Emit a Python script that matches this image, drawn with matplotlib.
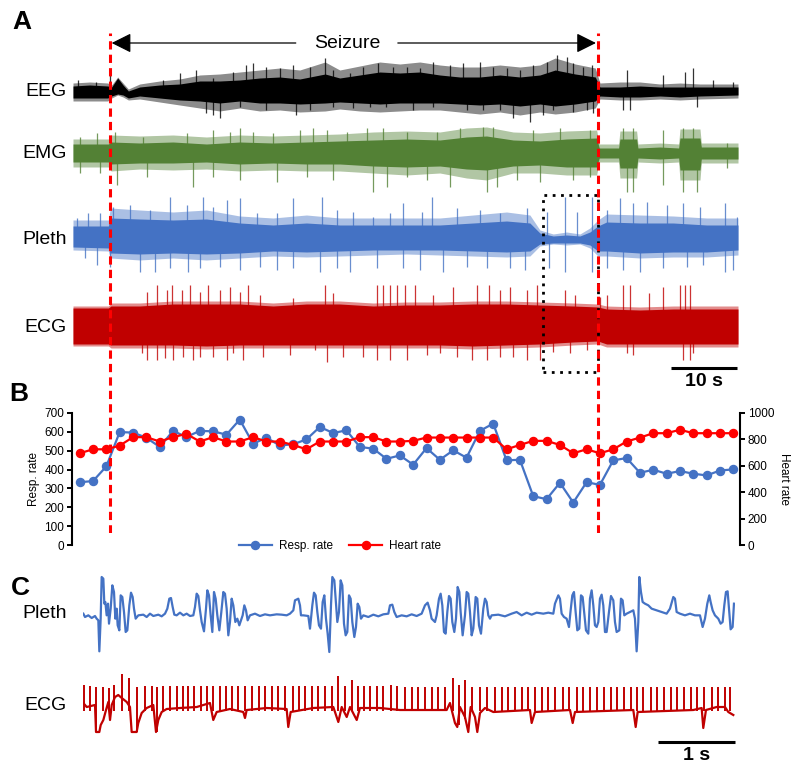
import numpy as np
import matplotlib
matplotlib.use('agg')
import matplotlib.pyplot as plt
from matplotlib.patches import Rectangle
from matplotlib.lines import Line2D

plt.rcParams['font.family'] = ['Liberation Sans', 'DejaVu Sans']

BLUE = '#4472C4'
GREEN = '#538135'
DARKRED = '#C00000'
RED = '#FF0000'

# seizure onset / offset and zoom window (s)
SEIZ_ON, SEIZ_OFF = 5.5, 78.7
ZOOM_WIN = (70.4, 78.7)

# ---- panel A: raw traces as envelopes (time s, amplitude a.u.)
# dense core, outer fringe, and single excursions above / below the baseline
eeg_t = [0, 2.5, 5.2, 5.8, 6.7, 7.5, 8.3, 10, 13, 16, 19, 22, 25, 28, 31, 34, 37.8, 40, 43, 46, 49,
         52, 55, 58, 61, 64, 67, 70, 72.3, 75.3, 78.3, 79, 82, 85, 88, 91, 94, 99.7]
eeg_top = [6, 7, 6, 5, 14, 7, 1, 5, 7, 8, 11, 11, 12, 14, 15, 13, 18, 14, 17, 20, 19,
           20, 17, 15, 15, 17, 15, 17, 22, 18, 15, 5, 5, 6, 5, 5, 5, 5]
eeg_bot = [-6, -6, -6, -4, -2, -3, -6, -4, -6, -8, -9, -11, -9, -11, -11, -12, -11, -10, -11, -12, -11,
           -11, -11, -12, -13, -12, -14, -12, -14, -12, -9, -4, -5, -5, -4, -5, -4, -3]
eeg_out_top = [9, 10, 9, 7, 15, 9, 3, 8, 11, 13, 17, 18, 20, 22, 24, 22, 30, 22, 26, 30, 28,
               30, 27, 25, 25, 27, 25, 27, 34, 28, 24, 9, 10, 10, 8, 9, 8, 8]
eeg_out_bot = [-9, -9, -9, -6, -3, -5, -8, -7, -10, -13, -16, -19, -16, -19, -18, -20, -19, -17, -19, -20, -19,
               -18, -18, -20, -22, -20, -23, -20, -22, -20, -16, -7, -8, -8, -7, -8, -7, -6]
eeg_up_t = [0.8, 3.5, 5.5, 13.5, 16, 18.5, 21, 24, 26, 27, 29, 31, 33, 35.5, 37.8, 39, 41.5, 43.5, 45.8, 48,
            50, 52, 54, 56.5, 58.5, 61, 63, 65, 67, 69, 71, 72.5, 74, 75, 76.5, 77.8, 83, 88.5, 91.8, 93,
            96, 99]
eeg_up = [12, 10, 17, 12, 19, 22, 14, 20, 27, 29, 25, 24, 27, 25, 34, 22, 19, 25, 29, 25,
          25, 24, 30, 27, 29, 30, 25, 24, 22, 27, 30, 37, 35, 29, 25, 27, 22, 17, 20, 24,
          12, 10]
eeg_dn_t = [20, 21, 22, 25, 29, 33.5, 35.5, 39, 42, 44.5, 47, 51, 54, 59, 61.5, 64, 66, 68.5, 70.5, 72,
            75, 77, 78, 82.5, 83.5, 93.5]
eeg_dn = [-21, -23, -26, -15, -18, -23, -18, -15, -16, -15, -15, -18, -15, -18, -18, -18, -26, -30, -23, -18,
          -20, -18, -21, -18, -18, -15]

emg_t = [0, 5.3, 5.7, 10, 15, 20, 25, 30, 35, 40, 45, 50, 55, 59, 62, 66, 70, 74, 78.5, 78.9,
         81.8, 82.0, 84.5, 84.7, 88, 90.8, 91.0, 94, 94.2, 99.7]
emg_top = [9, 9, 11, 10, 11, 9, 11, 10, 11, 12, 13, 14, 13, 16, 17, 13, 12, 14, 15, 5,
           5, 14, 14, 5, 6, 5, 15, 15, 6, 6]
emg_bot = [-9, -9, -11, -10, -10, -9, -11, -10, -11, -11, -13, -14, -13, -16, -17, -13, -12, -14, -14, -5,
           -5, -15, -15, -5, -6, -5, -17, -17, -6, -6]
emg_out_top = [14, 14, 18, 17, 18, 16, 18, 17, 18, 19, 21, 22, 21, 25, 26, 21, 20, 22, 23, 9,
               9, 22, 22, 9, 10, 9, 24, 24, 10, 10]
emg_out_bot = [-14, -14, -18, -16, -17, -16, -18, -17, -18, -18, -20, -22, -20, -25, -27, -20, -20, -22, -22, -9,
               -9, -25, -25, -9, -10, -9, -27, -27, -10, -10]
emg_up_t = [1.05, 3.55, 6.3, 10.5, 17.05, 21.05, 23.55, 25.05, 27.05, 30.05, 34.05, 36.05, 38.05, 41.05, 44.05,
            46.55, 50, 54.5, 58, 61.5, 63, 69, 73, 77.5, 82.5, 84, 88.5, 91.5, 93, 98]
emg_up = [16, 20, 21, 16, 20, 23, 21, 25, 21, 20, 23, 25, 23, 21, 25,
          25, 21, 21, 25, 26, 26, 23, 25, 23, 25, 25, 23, 25, 25, 10]
emg_dn_t = [1.05, 4.05, 6.55, 11.05, 18.05, 21.05, 25.05, 30.55, 35.05, 39.05, 45.05, 47.05, 50, 53, 56.5,
            62, 63.5, 66.5, 70, 75, 77.5, 83, 84, 88.5, 91.5, 93.5, 98]
emg_dn = [-20, -20, -32, -24, -34, -24, -27, -29, -24, -27, -39, -34, -24, -27, -34,
          -39, -34, -27, -29, -27, -24, -39, -39, -32, -39, -39, -15]

pleth_t = [0, 5.3, 5.6, 10, 15, 20, 25, 30, 35, 40, 45, 50, 55, 60, 65, 68.5, 70, 72, 74, 76,
           77.5, 78.7, 80, 85, 90, 95, 99.7]
pleth_top = [14, 14, 22, 21, 20, 21, 17, 15, 17, 15, 15, 15, 15, 17, 19, 17, 7, 4, 5, 4,
             8, 14, 18, 17, 17, 15, 15]
pleth_bot = [-7, -8, -13, -14, -13, -14, -13, -11, -12, -11, -10, -10, -10, -11, -12, -11, -4, -3, -3, -3,
             -5, -11, -11, -13, -12, -12, -10]
pleth_out_top = [20, 20, 32, 30, 28, 30, 24, 22, 25, 22, 22, 22, 22, 25, 28, 25, 10, 6, 8, 6,
                 12, 20, 26, 25, 24, 22, 22]
pleth_out_bot = [-10, -11, -18, -20, -18, -20, -18, -16, -17, -16, -15, -14, -15, -16, -17, -16, -6, -4, -5, -4,
                 -8, -16, -16, -18, -17, -17, -15]
pleth_up_t = [0.55, 2.3, 4.05, 6.05, 8.55, 11.55, 14.55, 17.05, 19.55, 21.05, 23.05, 25.05, 27.55, 30.55, 33.05,
              37.3, 39.55, 42.05, 45.05, 47.55, 49.5, 52.3, 53.8, 57.5, 61, 64, 68, 71, 73.8, 75.5,
              77.8, 80, 82, 84, 86, 89, 91.5, 94, 97.8, 99.5]
pleth_up = [22, 27, 27, 33, 35, 30, 43, 35, 43, 33, 40, 42, 27, 27, 42,
            43, 30, 28, 23, 27, 37, 28, 43, 32, 30, 27, 32, 28, 43, 28,
            43, 30, 42, 37, 38, 35, 37, 33, 37, 23]
pleth_dn_t = [1.8, 3.55, 5.55, 10.05, 12.3, 14.55, 17.3, 19.05, 22.05, 25.05, 28.05, 30.55, 33.05, 37.05, 39.55,
              41.55, 45.55, 49.5, 52, 55.5, 59, 62, 65.5, 67.8, 71.3, 73.8, 77.8, 80, 82.5, 85,
              88.5, 92, 94.5, 97.8, 99]
pleth_dn = [-18, -25, -27, -32, -32, -28, -32, -28, -27, -30, -27, -30, -28, -32, -28,
            -32, -28, -28, -30, -32, -27, -28, -28, -30, -28, -32, -32, -28, -30, -32,
            -28, -27, -25, -32, -30]

ecg_t = [0, 5.3, 5.7, 10, 15, 20, 25, 30, 35, 40, 45, 50, 55, 60, 65, 70, 75, 78.7, 80, 85, 90, 95, 99.7]
ecg_top = [18, 18, 20, 20, 22, 22, 22, 20, 22, 22, 20, 21, 21, 22, 22, 21, 20, 19, 17, 16, 17, 17, 17]
ecg_bot = [-18, -18, -19, -19, -19, -20, -19, -19, -19, -19, -19, -19, -19, -20, -19, -18, -16, -15, -18, -18,
           -18, -18, -18]
ecg_out_top = [20, 20, 23, 23, 25, 25, 25, 23, 25, 25, 23, 24, 24, 25, 25, 24, 23, 22, 20, 19, 20, 20, 20]
ecg_out_bot = [-20, -20, -22, -22, -22, -23, -22, -22, -22, -22, -22, -22, -22, -23, -22, -21, -19, -18, -21, -21,
               -21, -21, -21]
ecg_up_t = [11.05, 12.55, 14.05, 14.8, 16.3, 17.55, 19.05, 20.3, 22.05, 23.55, 25.05, 26.3, 28.05, 33.05, 37.8,
            39.05, 45.55, 46.55, 47.55, 48.55, 49.8, 51.3, 54, 57, 60.5, 62.3, 64, 65.5, 68, 69.5,
            73.8, 75.3, 79, 80, 82.5, 83.5, 86.3, 88.5, 91, 91.8, 92.5]
ecg_up = [34, 41, 36, 41, 36, 41, 34, 41, 36, 39, 34, 41, 31, 28, 41,
          33, 41, 41, 41, 41, 41, 41, 31, 39, 41, 41, 36, 39, 36, 41,
          36, 31, 29, 31, 41, 41, 33, 39, 41, 41, 41]
ecg_dn_t = [10.3, 11.05, 12.55, 13.8, 15.05, 16.55, 18.05, 19.05, 21.05, 23.05, 24.05, 25.55, 28.55, 32.55, 36.3,
            38.05, 40.55, 43.55, 45.55, 47.55, 50, 53, 55, 57.5, 59.8, 62, 64, 66, 68, 70,
            72, 74.5, 77, 83, 84, 91.5, 92.5, 93]
ecg_dn = [-27, -34, -34, -32, -34, -31, -34, -31, -31, -34, -27, -34, -31, -29, -24,
          -36, -31, -31, -34, -34, -34, -29, -27, -31, -34, -34, -31, -31, -34, -34,
          -26, -27, -24, -27, -29, -34, -34, -27]

# ---- panel B: 2-s bins
bin_t = np.arange(1, 100, 2)
resp_rate = [333, 339, 417, 599, 596, 569, 520, 605, 573, 605, 603, 585, 665, 537, 569, 528, 534, 560, 626, 594,
             608, 520, 511, 457, 475, 426, 514, 452, 502, 463, 605, 644, 449, 452, 259, 243, 330, 225, 333, 319,
             449, 461, 383, 399, 378, 392, 378, 369, 395, 401]
heart_rate = [695, 725, 725, 753, 817, 817, 784, 817, 842, 784, 817, 784, 784, 817, 784, 784, 758, 725, 784, 784,
              784, 817, 817, 784, 784, 789, 814, 814, 814, 814, 814, 814, 725, 758, 789, 789, 758, 695, 725, 695,
              725, 784, 814, 847, 847, 873, 847, 847, 847, 847]

# ---- panel C: pleth vertices (sample index @ 231 Hz, a.u.)
PLETH_FS = 231
pleth_idx = [1, 6, 16, 26, 36, 41, 46, 49, 53, 56, 61, 64, 67, 71, 75, 78, 83, 88, 93, 97,
             101, 104, 109, 113, 118, 123, 128, 133, 139, 144, 149, 153, 158, 166, 181, 191, 201, 211, 226, 236,
             246, 253, 259, 264, 269, 274, 281, 291, 301, 311, 321, 331, 336, 341, 346, 351, 356, 363, 369, 373,
             378, 383, 388, 393, 398, 403, 409, 415, 421, 426, 431, 436, 441, 446, 451, 457, 463, 469, 479, 484,
             489, 494, 501, 516, 531, 546, 561, 581, 596, 611, 621, 631, 636, 646, 651,
             654, 661, 676, 681, 688, 693, 698, 703, 708, 714, 719, 724, 729, 734, 739, 744, 748, 754, 758, 763,
             768, 773, 778, 783, 788, 793, 798, 803, 808, 814, 819, 824, 829, 834, 841, 856, 871, 886, 901, 916,
             921, 928, 934, 941, 956, 971, 986, 1001, 1016, 1026, 1034, 1041, 1046, 1056, 1061, 1068, 1073, 1078,
             1083, 1088, 1093, 1098, 1103, 1108, 1114, 1119, 1124, 1129, 1133, 1139, 1146, 1151, 1156, 1161, 1166,
             1171, 1178, 1183, 1188, 1194, 1201, 1206, 1211, 1216, 1221, 1226, 1246, 1266,
             1286, 1301, 1316, 1331, 1346, 1361, 1381, 1396, 1411, 1416, 1426, 1431, 1436, 1443, 1451, 1458, 1463,
             1468, 1473, 1478, 1483, 1489, 1494, 1499, 1504, 1509, 1516, 1521, 1526, 1531, 1536, 1541, 1546, 1551,
             1556, 1561, 1566, 1571, 1578, 1584, 1591, 1596, 1601, 1609, 1614, 1619, 1624, 1631, 1641, 1651, 1656,
             1661, 1666, 1669, 1674, 1679, 1686, 1696, 1706, 1721, 1736, 1751, 1761, 1771, 1776, 1781, 1791, 1806,
             1821, 1836, 1851, 1859, 1866, 1873, 1879, 1883, 1889, 1896, 1906, 1913, 1919, 1924, 1929, 1934, 1939,
             1943, 1949, 1953]
pleth_val = [5, -5, 0, -8, -2, -10, -15, -108, -10, 115, 110, 35, 40, 0, 35, -25, 20, 90, 70, -10,
             20, -30, -45, 60, 55, 10, -50, -45, 30, 68, 55, 20, -10, 0, 2, -5, 5, -2, 2, -3,
             5, 20, 50, 52, 25, 2, 0, 8, 0, 5, -2, 0, 25, 65, 58, 15, -20, -48, 20, 75,
             60, 0, -50, 70, 50, 0, -45, 10, 70, 65, 20, -60, -20, 50, 30, -20, -10, -30, 0, 30,
             15, -15, 0, 5, -2, 3, 0, 3, 2, 0, 5, 15, 45, 50, 30,
             0, 0, -2, -40, 30, 68, 60, 10, -30, -40, 40, 60, -10, -55, -110, 30, 115, 105, 50, -20,
             10, 105, 90, -25, -60, -50, 60, 50, -20, -65, -35, 35, 25, -10, 0, -5, 2, -3, 3, 5,
             30, 32, 10, -5, 0, -3, 3, -2, 5, 30, 38, 15, -10, -20, 0, 50, 65, 30,
             -50, -55, 10, 58, 50, -20, -50, -10, 85, 70, 10, -60, 0, 70, 65, 10, -60,
             -40, 55, 50, -30, -55, 20, 50, 40, 0, -10, 0, 2, -3,
             5, 10, 0, 8, 2, 8, 5, 8, 5, 35, 60, 50, 5, -5, -10, -35, 15,
             60, 70, 10, -45, -40, 60, 55, 5, -45, -55, 50, 75, 30, -30, -35, -20, 50,
             62, 30, -50, -50, 10, 58, 45, -20, -50, -45, 50, 45, 0, 5, 10, 15, -10,
             -108, -20, 115, 70, 40, 35, 30, 20, 15, 10, 5, 20, 55, 50, 10, 5, 0,
             5, 0, 0, -35, -10, 35, 60, 40, 15, 0, -10, -25, -20, 30, 70, 72, 10,
             -42, -35, 35]

# ---- panel C: ECG baseline wander (ms, a.u.) and R waves
ecg_base_ms = [4, 48, 156, 169, 212, 230, 264, 299, 329, 351, 373, 416, 458, 503, 568, 610, 632, 697, 718, 762,
               827, 913, 948, 978, 1022, 1087, 1260, 1477, 1649, 1692, 1736, 1909, 2082, 2104, 2126, 2386, 2645,
               2666, 2697, 2991, 3251, 3316, 3360, 3425, 3468, 3555, 3597, 3857, 4117, 4723, 4766, 4831, 4861,
               4896, 4961, 5004, 5035, 5091, 5121, 5156, 5221, 5329, 5805, 5827, 5870, 6325, 6360, 6390, 7147,
               7178, 7204, 7926, 8035, 8056, 8091, 8230, 8338, 8381, 8446]
ecg_base_val = [4, 0, 2, -25, -25, -18, -13, -3, 5, -13, 2, 10, 12, 9, 5, 0, -25, -25, -16, -6,
                -1, 2, -25, -13, -5, -2, -1, 0, 4, -13, -5, -2, -5, -11, -3, -1, -2, -20, -5, -1,
                0, -15, 0, -10, 0, -13, -1, -1, -3, -3, 4, -16, -20, 0, -10, -25, 0, -10, -25, -6,
                -1, -5, -3, -16, -5, -3, -16, -5, -3, -20, -5, -3, -1, -21, -3, 0, 0, -5, -8]
r_ms = [13, 91, 169, 260, 338, 403, 506, 597, 701, 805, 896, 961, 1039, 1130, 1221, 1299, 1364, 1442, 1532, 1610,
        1688, 1779, 1857, 1935, 2013, 2104, 2195, 2286, 2364, 2455, 2532, 2623, 2727, 2805, 2883, 2974, 3052, 3143,
        3234, 3312, 3403, 3494, 3571, 3649, 3727, 3818, 3896, 4000, 4078, 4182, 4269, 4355, 4442, 4529, 4614, 4701,
        4801, 4887, 4961, 5048, 5156, 5251, 5351, 5438, 5523, 5610, 5697, 5783, 5870, 5957, 6043, 6130, 6230, 6316,
        6412, 6497, 6584, 6671, 6766, 6853, 6939, 7026, 7113, 7191, 7277, 7373, 7458, 7545, 7632, 7718, 7805, 7892,
        7978, 8065, 8165, 8251, 8338, 8403]
r_top = [22, 21, 20, 20, 19, 22, 33, 29, 20, 21, 21, 20, 21, 21, 21, 21, 21, 21, 21, 21,
         21, 21, 21, 21, 21, 21, 21, 21, 21, 21, 21, 21, 21, 21, 21, 21, 21, 21, 21, 31,
         21, 27, 21, 21, 21, 21, 21, 22, 21, 20, 20, 20, 20, 20, 20, 20, 29, 22, 27, 20,
         20, 20, 20, 20, 20, 20, 20, 20, 20, 20, 20, 20, 20, 20, 20, 20, 20, 20, 20, 20,
         20, 20, 20, 20, 20, 20, 20, 20, 20, 20, 20, 20, 20, 20, 20, 20, 20, 20]
r_bot = [-4, -4, -25, -4, -4, -4, -4, -4, -25, -4, -4, -25, -4, -4, -4, -4, -4, -4, -4, -4,
         -4, -4, -4, -4, -4, -4, -4, -4, -4, -4, -4, -4, -4, -4, -4, -4, -4, -4, -4, -4,
         -4, -4, -4, -4, -4, -4, -4, -4, -4, -4, -4, -4, -4, -4, -4, -4, -4, -18, -12, -4,
         -4, -4, -4, -4, -4, -4, -4, -4, -4, -4, -4, -4, -4, -4, -4, -4, -4, -4, -4, -4,
         -4, -4, -4, -4, -4, -4, -4, -4, -4, -4, -4, -4, -4, -4, -4, -4, -4, -4]

W, H = 800, 773
fig = plt.figure(figsize=(W / 100, H / 100), dpi=100)


def box(x0, y0, x1, y1):
    return [x0 / W, 1 - y1 / H, (x1 - x0) / W, (y1 - y0) / H]


def label(x, y, s, **kw):
    fig.text(x / W, 1 - y / H, s, **kw)


# ---------------- panel A
ax_a = fig.add_axes(box(73, 30, 738, 390))
ax_a.set_xlim(0, 99.7)
ax_a.set_ylim(0, 360)
ax_a.axis('off')

traces = [
    (298, eeg_t, eeg_top, eeg_bot, eeg_out_top, eeg_out_bot, eeg_up_t, eeg_up, eeg_dn_t, eeg_dn, 'black'),
    (237, emg_t, emg_top, emg_bot, emg_out_top, emg_out_bot, emg_up_t, emg_up, emg_dn_t, emg_dn, GREEN),
    (150, pleth_t, pleth_top, pleth_bot, pleth_out_top, pleth_out_bot, pleth_up_t, pleth_up, pleth_dn_t,
     pleth_dn, BLUE),
    (64, ecg_t, ecg_top, ecg_bot, ecg_out_top, ecg_out_bot, ecg_up_t, ecg_up, ecg_dn_t, ecg_dn, DARKRED),
]
for base, t, top, bot, otop, obot, ut, up, dt, dn, col in traces:
    ax_a.fill_between(t, base + np.array(obot), base + np.array(otop), color=col, lw=0, alpha=0.45)
    ax_a.fill_between(t, base + np.array(bot), base + np.array(top), color=col, lw=0)
    ax_a.vlines(ut, base, base + np.array(up), color=col, lw=0.9, alpha=0.8)
    ax_a.vlines(dt, base + np.array(dn), base, color=col, lw=0.9, alpha=0.8)

# seizure arrow
arrow = dict(arrowstyle='-|>,head_length=0.6,head_width=0.3', mutation_scale=20,
             color='black', lw=0.9, shrinkA=0, shrinkB=0)
ax_a.annotate('', xy=(SEIZ_ON + 0.3, 347), xytext=(33.4, 347), arrowprops=arrow)
ax_a.annotate('', xy=(SEIZ_OFF - 0.3, 347), xytext=(48.7, 347), arrowprops=arrow)
ax_a.text(41.1, 347, 'Seizure', ha='center', va='center', fontsize=14)

# zoom window shown in panel C
ax_a.add_patch(Rectangle((ZOOM_WIN[0], 18), ZOOM_WIN[1] - ZOOM_WIN[0], 177, fill=False,
                         ec='black', lw=2, ls=(0, (1, 2))))

# 10 s scale bar
ax_a.plot([99.6 - 10, 99.6], [22, 22], color='black', lw=2.2, solid_capstyle='butt', clip_on=False)
ax_a.text(99.6 - 5, 8, '10 s', ha='center', va='center', fontsize=14, fontweight='bold')

for s, y in [('EEG', 92), ('EMG', 153), ('Pleth', 239), ('ECG', 327)]:
    label(67, y, s, ha='right', va='center', fontsize=14)

# ---------------- panel B
ax_b = fig.add_axes(box(72, 413, 740, 545))
ax_b.set_xlim(-0.15, 100.0)
ax_b.plot(bin_t, resp_rate, '-o', color=BLUE, ms=5.8, lw=1.6)
ax_b.set_ylim(0, 700)
ax_b.set_yticks(range(0, 701, 100))
ax_b.set_xticks([])
ax_b.set_ylabel('Resp. rate', fontsize=8.5, labelpad=3)
ax_b2 = ax_b.twinx()
ax_b2.plot(bin_t, heart_rate, '-o', color=RED, ms=5.8, lw=1.6)
ax_b2.set_ylim(0, 1000)
ax_b2.set_yticks(range(0, 1001, 200))
ax_b2.set_ylabel('Heart rate', fontsize=8.5, rotation=270, va='bottom', labelpad=3)
for ax, keep in [(ax_b, 'left'), (ax_b2, 'right')]:
    for side in ['top', 'bottom', 'left', 'right']:
        ax.spines[side].set_visible(side == keep)
    ax.spines[keep].set_linewidth(1.5)
    ax.tick_params(axis='y', direction='out', length=3.5, width=1.4, labelsize=8.5, pad=2)
    ax.patch.set_alpha(0)

handles = [Line2D([], [], color=BLUE, marker='o', ms=5.8, lw=1.6),
           Line2D([], [], color=RED, marker='o', ms=5.8, lw=1.6)]
fig.legend(handles, ['Resp. rate', 'Heart rate'], loc='center', bbox_to_anchor=(340 / W, 1 - 546 / H),
           ncol=2, frameon=False, fontsize=8.5, handlelength=2.8, columnspacing=1.4, handletextpad=0.6)

# ---------------- seizure markers spanning A and B
ax_o = fig.add_axes(box(73, 33, 738, 533))
ax_o.set_xlim(0, 99.7)
ax_o.set_ylim(0, 1)
ax_o.axis('off')
for x in (SEIZ_ON, SEIZ_OFF):
    ax_o.axvline(x, color=RED, lw=2.2, ls=(0, (2.7, 1.7)))

# ---------------- panel C
ax_cp = fig.add_axes(box(83, 572, 735, 655))
ax_cp.plot(np.array(pleth_idx) / PLETH_FS, pleth_val, color=BLUE, lw=1.6)
ax_cp.set_xlim(0, 8.468)
ax_cp.set_ylim(-119, 130)
ax_cp.axis('off')

ax_ce = fig.add_axes(box(83, 670, 735, 740))
ax_ce.plot(ecg_base_ms, ecg_base_val, color=DARKRED, lw=1.6)
ax_ce.vlines(r_ms, r_bot, r_top, color=DARKRED, lw=1.4)
ax_ce.set_xlim(0, 8468)
ax_ce.set_ylim(-33, 37)
ax_ce.axis('off')
ax_ce.plot([7468, 8468], [-35, -35], color='black', lw=2.2, solid_capstyle='butt', clip_on=False)
ax_ce.text(7968, -49, '1 s', ha='center', va='center', fontsize=14, fontweight='bold', clip_on=False)

label(67, 613, 'Pleth', ha='right', va='center', fontsize=14)
label(67, 705, 'ECG', ha='right', va='center', fontsize=14)

for s, x, y in [('A', 22, 22), ('B', 19, 394), ('C', 20, 588)]:
    label(x, y, s, ha='center', va='center', fontsize=19, fontweight='bold')

fig.savefig('out.png', dpi=100)
